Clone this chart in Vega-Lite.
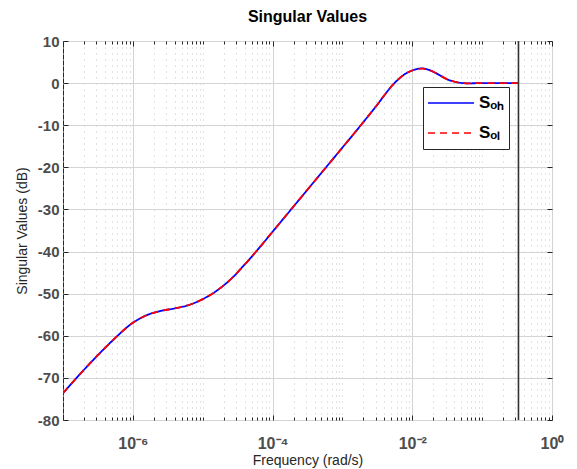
{
  "$schema": "https://vega.github.io/schema/vega-lite/v6.json",
  "width": 489,
  "height": 379,
  "autosize": "none",
  "padding": {"left": 63, "top": 41, "right": 25, "bottom": 49},
  "background": "white",
  "title": {"text": "Singular Values", "font": "Liberation Sans", "fontSize": 16, "fontWeight": "bold", "color": "#000000", "offset": 9},
  "config": {
    "view": {"stroke": "#262626", "strokeWidth": 1},
    "axis": {"domain": false, "labelFont": "Liberation Sans", "titleFont": "Liberation Sans", "tickColor": "#262626"},
    "legend": {"labelFont": "Liberation Sans"}
  },
  "datasets": {
    "sv": [
      {"f": 1e-7, "dB": -73.6, "series": "S_oh"}, {"f": 1.585e-7, "dB": -69.9, "series": "S_oh"}, {"f": 2.512e-7, "dB": -66.3, "series": "S_oh"}, {"f": 3.981e-7, "dB": -62.9, "series": "S_oh"}, {"f": 6.31e-7, "dB": -59.7, "series": "S_oh"}, {"f": 7.943e-7, "dB": -58.2, "series": "S_oh"},
      {"f": 1e-6, "dB": -56.9, "series": "S_oh"}, {"f": 1.259e-6, "dB": -55.9, "series": "S_oh"}, {"f": 1.585e-6, "dB": -55.1, "series": "S_oh"}, {"f": 2.512e-6, "dB": -54.1, "series": "S_oh"}, {"f": 3.981e-6, "dB": -53.5, "series": "S_oh"}, {"f": 6.31e-6, "dB": -52.7, "series": "S_oh"},
      {"f": 1e-5, "dB": -51.3, "series": "S_oh"}, {"f": 1.585e-5, "dB": -49.3, "series": "S_oh"}, {"f": 2.512e-5, "dB": -46.6, "series": "S_oh"}, {"f": 3.981e-5, "dB": -43.1, "series": "S_oh"}, {"f": 6.31e-5, "dB": -39.3, "series": "S_oh"},
      {"f": 1e-4, "dB": -35.3, "series": "S_oh"}, {"f": 1.585e-4, "dB": -31.3, "series": "S_oh"}, {"f": 2.512e-4, "dB": -27.3, "series": "S_oh"}, {"f": 3.981e-4, "dB": -23.3, "series": "S_oh"}, {"f": 6.31e-4, "dB": -19.3, "series": "S_oh"},
      {"f": 1e-3, "dB": -15.3, "series": "S_oh"}, {"f": 1.585e-3, "dB": -11.3, "series": "S_oh"}, {"f": 2.512e-3, "dB": -7.2, "series": "S_oh"}, {"f": 3.162e-3, "dB": -5.1, "series": "S_oh"}, {"f": 3.981e-3, "dB": -2.9, "series": "S_oh"},
      {"f": 5.012e-3, "dB": -0.8, "series": "S_oh"}, {"f": 6.31e-3, "dB": 0.9, "series": "S_oh"}, {"f": 7.943e-3, "dB": 2.2, "series": "S_oh"}, {"f": 1e-2, "dB": 3.0, "series": "S_oh"}, {"f": 1.259e-2, "dB": 3.45, "series": "S_oh"},
      {"f": 1.413e-2, "dB": 3.5, "series": "S_oh"}, {"f": 1.585e-2, "dB": 3.35, "series": "S_oh"}, {"f": 1.995e-2, "dB": 2.7, "series": "S_oh"}, {"f": 2.512e-2, "dB": 1.8, "series": "S_oh"}, {"f": 3.162e-2, "dB": 0.9, "series": "S_oh"},
      {"f": 3.981e-2, "dB": 0.35, "series": "S_oh"}, {"f": 5.012e-2, "dB": 0.05, "series": "S_oh"}, {"f": 6.31e-2, "dB": -0.05, "series": "S_oh"}, {"f": 0.1, "dB": 0.0, "series": "S_oh"}, {"f": 0.1585, "dB": 0.0, "series": "S_oh"},
      {"f": 0.2512, "dB": 0.0, "series": "S_oh"}, {"f": 0.3311, "dB": 0.0, "series": "S_oh"},
      {"f": 1e-7, "dB": -73.6, "series": "S_ol"}, {"f": 1.585e-7, "dB": -69.9, "series": "S_ol"}, {"f": 2.512e-7, "dB": -66.3, "series": "S_ol"}, {"f": 3.981e-7, "dB": -62.9, "series": "S_ol"}, {"f": 6.31e-7, "dB": -59.7, "series": "S_ol"}, {"f": 7.943e-7, "dB": -58.2, "series": "S_ol"},
      {"f": 1e-6, "dB": -56.9, "series": "S_ol"}, {"f": 1.259e-6, "dB": -55.9, "series": "S_ol"}, {"f": 1.585e-6, "dB": -55.1, "series": "S_ol"}, {"f": 2.512e-6, "dB": -54.1, "series": "S_ol"}, {"f": 3.981e-6, "dB": -53.5, "series": "S_ol"}, {"f": 6.31e-6, "dB": -52.7, "series": "S_ol"},
      {"f": 1e-5, "dB": -51.3, "series": "S_ol"}, {"f": 1.585e-5, "dB": -49.3, "series": "S_ol"}, {"f": 2.512e-5, "dB": -46.6, "series": "S_ol"}, {"f": 3.981e-5, "dB": -43.1, "series": "S_ol"}, {"f": 6.31e-5, "dB": -39.3, "series": "S_ol"},
      {"f": 1e-4, "dB": -35.3, "series": "S_ol"}, {"f": 1.585e-4, "dB": -31.3, "series": "S_ol"}, {"f": 2.512e-4, "dB": -27.3, "series": "S_ol"}, {"f": 3.981e-4, "dB": -23.3, "series": "S_ol"}, {"f": 6.31e-4, "dB": -19.3, "series": "S_ol"},
      {"f": 1e-3, "dB": -15.3, "series": "S_ol"}, {"f": 1.585e-3, "dB": -11.3, "series": "S_ol"}, {"f": 2.512e-3, "dB": -7.2, "series": "S_ol"}, {"f": 3.162e-3, "dB": -5.1, "series": "S_ol"}, {"f": 3.981e-3, "dB": -2.9, "series": "S_ol"},
      {"f": 5.012e-3, "dB": -0.8, "series": "S_ol"}, {"f": 6.31e-3, "dB": 0.9, "series": "S_ol"}, {"f": 7.943e-3, "dB": 2.2, "series": "S_ol"}, {"f": 1e-2, "dB": 3.0, "series": "S_ol"}, {"f": 1.259e-2, "dB": 3.4, "series": "S_ol"},
      {"f": 1.413e-2, "dB": 3.45, "series": "S_ol"}, {"f": 1.585e-2, "dB": 3.3, "series": "S_ol"}, {"f": 1.995e-2, "dB": 2.7, "series": "S_ol"}, {"f": 2.512e-2, "dB": 1.8, "series": "S_ol"}, {"f": 3.162e-2, "dB": 0.9, "series": "S_ol"},
      {"f": 3.981e-2, "dB": 0.35, "series": "S_ol"}, {"f": 5.012e-2, "dB": 0.05, "series": "S_ol"}, {"f": 6.31e-2, "dB": -0.05, "series": "S_ol"}, {"f": 0.1, "dB": 0.0, "series": "S_ol"}, {"f": 0.1585, "dB": 0.0, "series": "S_ol"},
      {"f": 0.2512, "dB": 0.0, "series": "S_ol"}, {"f": 0.3311, "dB": 0.0, "series": "S_ol"}
    ],
    "nyq": [{"f": 0.3311}]
  },
  "layer": [
    {
      "data": {"name": "sv"},
      "transform": [{"filter": "datum.series == 'S_oh'"}],
      "mark": {"type": "line", "strokeWidth": 1.8, "interpolate": "monotone", "clip": true},
      "encoding": {
        "x": {
          "field": "f", "type": "quantitative",
          "scale": {"type": "log", "domain": [1e-7, 1], "nice": false},
          "axis": {
            "orient": "bottom",
            "title": "Frequency (rad/s)", "titleFontSize": 14, "titleFontWeight": "normal", "titleColor": "#262626", "titlePadding": 0,
            "values": [1e-7,2e-7,3e-7,4e-7,5e-7,6e-7,7e-7,8e-7,9e-7,1e-6,2e-6,3e-6,4e-6,5e-6,6e-6,7e-6,8e-6,9e-6,1e-5,2e-5,3e-5,4e-5,5e-5,6e-5,7e-5,8e-5,9e-5,1e-4,2e-4,3e-4,4e-4,5e-4,6e-4,7e-4,8e-4,9e-4,1e-3,2e-3,3e-3,4e-3,5e-3,6e-3,7e-3,8e-3,9e-3,0.01,0.02,0.03,0.04,0.05,0.06,0.07,0.08,0.09,0.1,0.2,0.3,0.4,0.5,0.6,0.7,0.8,0.9,1],
            "labelExpr": "datum.value == 0.000001 ? '10⁻⁶' : datum.value == 0.0001 ? '10⁻⁴' : datum.value == 0.01 ? '10⁻²' : datum.value == 1 ? '10⁰' : ''",
            "labelOverlap": false, "labelFlush": false, "labelBound": false,
            "labelFontSize": 16, "labelFontWeight": "bold", "labelColor": "#4d4d4d", "labelPadding": 20,
            "grid": true,
            "gridColor": {"condition": {"test": "indexof([0.000001, 0.0001, 0.01, 1], datum.value) >= 0", "value": "#d4d4d4"}, "value": "#c4c4c4"},
            "gridDash": {"condition": {"test": "indexof([0.000001, 0.0001, 0.01, 1], datum.value) >= 0", "value": []}, "value": [1, 5]},
            "gridWidth": 1,
            "tickSize": {"condition": {"test": "indexof([0.000001, 0.0001, 0.01, 1], datum.value) >= 0", "value": -5}, "value": -3}
          }
        },
        "y": {
          "field": "dB", "type": "quantitative",
          "scale": {"domain": [-80, 10], "nice": false, "zero": false},
          "axis": {
            "orient": "left",
            "title": "Singular Values (dB)", "titleFontSize": 14, "titleFontWeight": "normal", "titleColor": "#262626", "titlePadding": 8,
            "values": [-80, -70, -60, -50, -40, -30, -20, -10, 0, 10],
            "labelExpr": "'' + datum.value",
            "labelFontSize": 15, "labelFontWeight": "bold", "labelColor": "#4d4d4d", "labelPadding": 9,
            "grid": true, "gridColor": "#d4d4d4", "tickSize": -5
          }
        },
        "color": {
          "field": "series", "type": "nominal",
          "scale": {"domain": ["S_oh", "S_ol"], "range": ["#0000ff", "#ff0000"]},
          "legend": {
            "title": null, "orient": "none", "legendX": 360, "legendY": 46,
            "symbolType": "stroke", "symbolSize": 2116, "symbolStrokeWidth": 1.5, "clipHeight": 24,
            "labelExpr": "datum.label == 'S_oh' ? 'Sₒₕ' : 'Sₒₗ'",
            "labelFontSize": 17, "labelFontWeight": "bold", "labelColor": "#000000", "labelOffset": 4,
            "rowPadding": 6, "padding": 4, "fillColor": "#ffffff", "strokeColor": "#262626"
          }
        },
        "strokeDash": {
          "field": "series", "type": "nominal",
          "scale": {"domain": ["S_oh", "S_ol"], "range": [[1, 0], [7, 5]]},
          "legend": {
            "title": null, "orient": "none", "legendX": 360, "legendY": 46,
            "symbolType": "stroke", "symbolSize": 2116, "symbolStrokeWidth": 1.5, "clipHeight": 24,
            "labelExpr": "datum.label == 'S_oh' ? 'Sₒₕ' : 'Sₒₗ'",
            "labelFontSize": 17, "labelFontWeight": "bold", "labelColor": "#000000", "labelOffset": 4,
            "rowPadding": 6, "padding": 4, "fillColor": "#ffffff", "strokeColor": "#262626"
          }
        }
      }
    },
    {
      "data": {"name": "sv"},
      "transform": [{"filter": "datum.series == 'S_ol'"}],
      "mark": {"type": "line", "strokeWidth": 1.8, "interpolate": "monotone", "clip": true},
      "encoding": {
        "x": {
          "field": "f", "type": "quantitative",
          "scale": {"type": "log", "domain": [1e-7, 1], "nice": false},
          "axis": {
            "orient": "top", "title": null, "labels": false, "grid": false,
            "values": [1e-7,2e-7,3e-7,4e-7,5e-7,6e-7,7e-7,8e-7,9e-7,1e-6,2e-6,3e-6,4e-6,5e-6,6e-6,7e-6,8e-6,9e-6,1e-5,2e-5,3e-5,4e-5,5e-5,6e-5,7e-5,8e-5,9e-5,1e-4,2e-4,3e-4,4e-4,5e-4,6e-4,7e-4,8e-4,9e-4,1e-3,2e-3,3e-3,4e-3,5e-3,6e-3,7e-3,8e-3,9e-3,0.01,0.02,0.03,0.04,0.05,0.06,0.07,0.08,0.09,0.1,0.2,0.3,0.4,0.5,0.6,0.7,0.8,0.9,1],
            "tickSize": {"condition": {"test": "indexof([0.000001, 0.0001, 0.01, 1], datum.value) >= 0", "value": -5}, "value": -3}
          }
        },
        "y": {
          "field": "dB", "type": "quantitative",
          "scale": {"domain": [-80, 10], "nice": false, "zero": false},
          "axis": {
            "orient": "right", "title": null, "labels": false, "grid": false,
            "values": [-80, -70, -60, -50, -40, -30, -20, -10, 0, 10], "tickSize": -5
          }
        },
        "color": {"field": "series", "type": "nominal", "scale": {"domain": ["S_oh", "S_ol"], "range": ["#0000ff", "#ff0000"]}},
        "strokeDash": {"field": "series", "type": "nominal", "scale": {"domain": ["S_oh", "S_ol"], "range": [[1, 0], [7, 5]]}}
      }
    },
    {
      "data": {"name": "nyq"},
      "mark": {"type": "rule", "color": "#333333", "strokeWidth": 1.6},
      "encoding": {
        "x": {"field": "f", "type": "quantitative", "scale": {"type": "log", "domain": [1e-7, 1], "nice": false}, "axis": null}
      }
    }
  ],
  "resolve": {"axis": {"x": "independent", "y": "independent"}}
}
